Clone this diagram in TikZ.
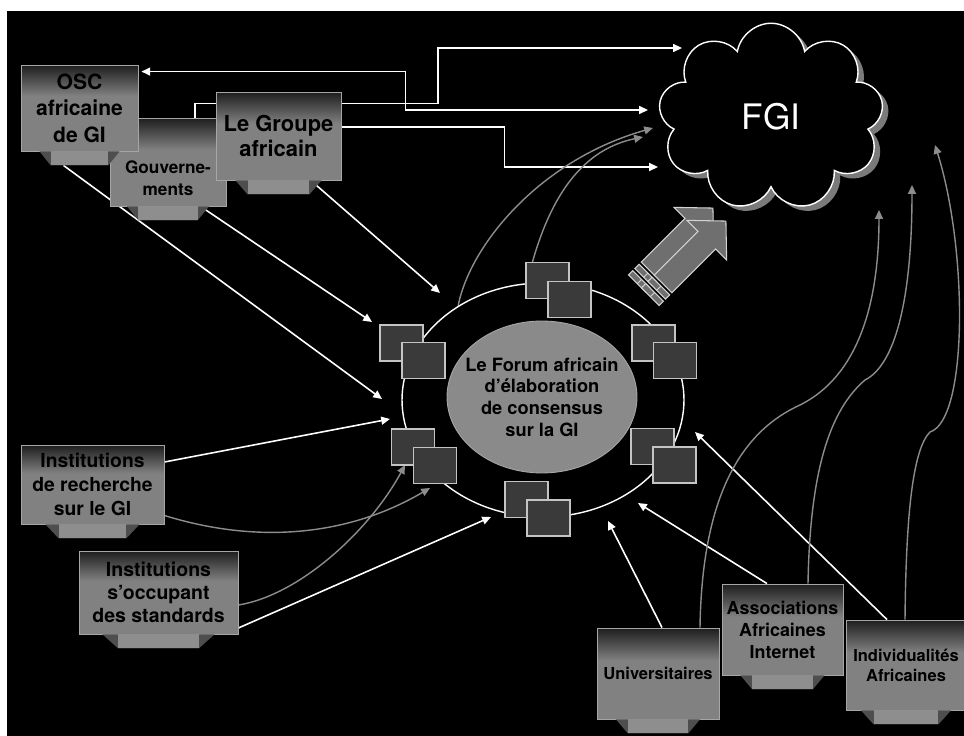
\documentclass[tikz,border=0pt]{standalone}
\usepackage{fontspec}
\setmainfont{TeX Gyre Heros}
\usetikzlibrary{arrows.meta,shapes.geometric,shapes.symbols,shadows}

\definecolor{boxgray}{HTML}{818181}
\definecolor{boxtop}{HTML}{1E1E1E}
\definecolor{boxedge}{HTML}{A6A6A6}
\definecolor{flapgray}{HTML}{4E4E4E}
\definecolor{footgray}{HTML}{8E8E8E}
\definecolor{seatfill}{HTML}{3A3A3A}
\definecolor{seatedge}{HTML}{C4C4C4}
\definecolor{forumgray}{HTML}{8A8A8A}
\definecolor{curvegray}{HTML}{8C8C8C}
\definecolor{arrowfill}{HTML}{6F6F6F}
\definecolor{arrowedge}{HTML}{D2D2D2}
\definecolor{cloudshadow}{HTML}{7A7A7A}

\pgfdeclareverticalshading{boxshade}{100bp}{color(0bp)=(boxgray); color(25bp)=(boxgray); color(57bp)=(boxgray); color(75bp)=(boxtop); color(100bp)=(boxtop)}

\pgfdeclarelayer{background}
\pgfdeclarelayer{links}
\pgfsetlayers{background,links,main}

% stand under a box: #1 box name, #2 half width of its top edge
\newcommand{\boxstand}[2]{%
  \fill[flapgray] (#1.south) ++({-#2},0) -- ++({2*#2},0) -- ++({-0.28*#2},14)
    -- ++({-1.44*#2},0) -- cycle;
  \fill[footgray] (#1.south) ++({-0.72*#2},0) rectangle ++({1.44*#2},14);
}

\begin{document}
\begin{tikzpicture}
    [%%%%%%%%%%%%%%%%%%%%%%%%%%%%%%
        x=0.02cm, y=-0.02cm,
        actor/.style={rectangle, draw=boxedge, line width=0.5pt, shade, shading=boxshade,
            align=center, text=black, inner sep=1pt},
        seat/.style={rectangle, draw=seatedge, line width=0.6pt, fill=seatfill,
            minimum width=0.86cm, minimum height=0.72cm, inner sep=0pt},
        wline/.style={draw=white, line width=0.9pt},
        gline/.style={draw=curvegray, line width=0.8pt},
        wtip/.style={-{Triangle[length=5pt,width=4.5pt]}},
        bigarrow/.style={fill=arrowfill, draw=arrowedge, line width=0.6pt},
    ]%%%%%%%%%%%%%%%%%%%%%%%%%%%%%%
\begin{pgfonlayer}{background}
\fill[white] (0,0) rectangle (964,736);
\fill[black] (7,11) rectangle (964,736);
\end{pgfonlayer}
\useasboundingbox (0,0) rectangle (964,736);

\node[cloud, cloud puffs=9, cloud puff arc=160, aspect=1.2, draw=white, line width=0.8pt,
    fill=black, minimum width=4.5cm, minimum height=3.75cm, text=white,
    font=\fontsize{20}{24}\selectfont,
    drop shadow={shadow xshift=3.4pt, shadow yshift=-2.8pt, fill=cloudshadow, opacity=1}]
    (fgi) at (771,117) {FGI};

% actors
\node[actor, minimum width=2.32cm, minimum height=1.76cm,
    label={[font=\bfseries\fontsize{9.8}{12.5}\selectfont, align=center, yshift=-9pt]center:Gouverne-\\ments}]
    (gouv) at (168,162) {};
\boxstand{gouv}{41}
\node[actor, minimum width=2.34cm, minimum height=1.72cm, font=\bfseries\fontsize{12}{15}\selectfont]
    (osc) at (79.5,108) {OSC\\africaine\\de GI};
\boxstand{osc}{40}
\node[actor, minimum width=2.50cm, minimum height=1.76cm, font=\bfseries\fontsize{12.5}{14.7}\selectfont]
    (groupe) at (278.5,136) {Le Groupe\\africain};
\boxstand{groupe}{43}
\node[actor, minimum width=2.86cm, minimum height=1.58cm, font=\bfseries\fontsize{11}{13.7}\selectfont]
    (irech) at (92.5,484.5) {Institutions\\de recherche\\sur le GI};
\boxstand{irech}{47}
\node[actor, minimum width=3.18cm, minimum height=1.66cm, font=\bfseries\fontsize{11.1}{13.2}\selectfont]
    (istand) at (158.5,592.5) {Institutions\\s’occupant\\des standards};
\boxstand{istand}{56}
\node[actor, minimum width=2.44cm, minimum height=1.82cm, font=\bfseries\fontsize{9.4}{12}\selectfont]
    (univ) at (658,673.5) {Universitaires};
\boxstand{univ}{42}
\node[actor, minimum width=2.42cm, minimum height=1.82cm, font=\bfseries\fontsize{10.2}{12.5}\selectfont]
    (assoc) at (782.5,629.5) {Associations\\Africaines\\Internet};
\boxstand{assoc}{42}
\node[actor, minimum width=2.40cm, minimum height=1.80cm, font=\bfseries\fontsize{9.4}{11.5}\selectfont]
    (indiv) at (906,665) {Individualités\\Africaines};
\boxstand{indiv}{45}

% forum
\node[ellipse, draw=white, line width=0.8pt, fill=black, minimum width=5.64cm, minimum height=4.68cm]
    (ring) at (543,400) {};
\node[ellipse, draw=boxedge, line width=0.5pt, fill=forumgray, minimum width=3.8cm, minimum height=3.04cm,
    inner xsep=-8pt, inner ysep=0pt, align=center, font=\bfseries\fontsize{10.4}{12.4}\selectfont]
    (forum) at (542,397) {Le Forum africain\\d’élaboration\\de consensus\\sur la GI};
\node[seat] (tb) at (547.5,280.5) {};
\node[seat] (tf) at (569.5,299.5) {};
\node[seat] (lub) at (401.5,343) {};
\node[seat] (luf) at (423.5,360.5) {};
\node[seat] (rub) at (653.5,343) {};
\node[seat] (ruf) at (675,360.5) {};
\node[seat] (llb) at (413,447) {};
\node[seat] (llf) at (435,465.5) {};
\node[seat] (rlb) at (652.5,446.5) {};
\node[seat] (rlf) at (674.5,465) {};
\node[seat] (bb) at (526.5,499.5) {};
\node[seat] (bf) at (548.5,518) {};

% big arrow towards FGI
\begin{scope}[shift={(650,271)}, rotate=45]
\draw[bigarrow] (0,-12.5) -- (62,-12.5) -- (62,-28) -- (89,0) -- (62,28) -- (62,12.5) -- (0,12.5) -- cycle;
\draw[bigarrow] (-9,-12.5) rectangle (-3,0) (-9,0) rectangle (-3,12.5);
\draw[bigarrow] (-18,-12.5) rectangle (-12,0) (-18,0) rectangle (-12,12.5);
\end{scope}
\begin{scope}[shift={(663,284)}, rotate=45]
\draw[bigarrow] (0,-12.5) -- (62,-12.5) -- (62,-28) -- (89,0) -- (62,28) -- (62,12.5) -- (0,12.5) -- cycle;
\draw[bigarrow] (-9,-12.5) rectangle (-3,0) (-9,0) rectangle (-3,12.5);
\draw[bigarrow] (-18,-12.5) rectangle (-12,0) (-18,0) rectangle (-12,12.5);
\end{scope}

% free ends
\coordinate (at-osc) at (382,399);
\coordinate (at-gouv) at (372,322);
\coordinate (at-groupe) at (440,293);
\coordinate (at-irech) at (390,419);
\coordinate (at-irech2) at (430,488);
\coordinate (at-istand) at (491,517);
\coordinate (at-istand2) at (405,465);
\coordinate (at-univ) at (608,521);
\coordinate (at-assoc) at (638,503);
\coordinate (at-indiv) at (695,432);
\coordinate (to-fgi-a) at (682,48);
\coordinate (to-fgi-b) at (648,110);
\coordinate (to-fgi-c) at (653,128);
\coordinate (to-fgi-d) at (643,137);
\coordinate (to-fgi-e) at (658,167);
\coordinate (to-fgi-f) at (879,210);
\coordinate (to-fgi-g) at (912,185);
\coordinate (to-fgi-h) at (935,145);

\begin{pgfonlayer}{links}
\draw[wline, {Triangle[length=5pt,width=4.5pt]}-{Triangle[length=5pt,width=4.5pt]}]
    ([shift={(3,7)}]osc.north east) -- ++(264,0) |- (to-fgi-b);
\draw[wline, wtip] ([shift={(27,0)}]gouv.north) -- ++(0,-14) -- ++(243,0) |- (to-fgi-a);
\draw[wline, wtip] ([shift={(0,-9)}]groupe.east) -- ++(163,0) |- (to-fgi-e);

\draw[wline, wtip] ([shift={(-16,14)}]osc.south) -- (at-osc);
\draw[wline, wtip] ([shift={(37,3)}]gouv.south) -- (at-gouv);
\draw[wline, wtip] ([shift={(38,5)}]groupe.south) -- (at-groupe);
\draw[wline, wtip] ([shift={(0,-22.5)}]irech.east) -- (at-irech);
\draw[wline, wtip] ([shift={(0,35.5)}]istand.east) -- (at-istand);
\draw[wline, wtip] ([shift={(4,0)}]univ.north) -- (at-univ);
\draw[wline, wtip] ([shift={(-15.5,0)}]assoc.north) -- (at-assoc);
\draw[wline, wtip] ([shift={(-19,0)}]indiv.north) -- (at-indiv);

\draw[gline, wtip] ([shift={(0,31)}]irech.east) .. controls (260,545) and (350,535) .. (at-irech2);
\draw[gline, wtip] ([shift={(0,12.5)}]istand.east) .. controls (300,595) and (370,530) .. (at-istand2);
\draw[gline, wtip] (ring.132) .. controls (470,245) and (540,160) .. (to-fgi-c);
\draw[gline, wtip] ([shift={(7,0)}]tb.north west) .. controls (550,200) and (580,150) .. (to-fgi-d);
\draw[gline, wtip] ([shift={(42,0)}]univ.north) .. controls (702,490) and (745,430) .. (800,405)
    .. controls (860,375) and (879,300) .. (to-fgi-f);
\draw[gline, wtip] ([shift={(25.5,0)}]assoc.north) .. controls (810,470) and (830,410) .. (865,380)
    .. controls (895,365) and (912,300) .. (to-fgi-g);
\draw[gline, wtip] ([shift={(-1,0)}]indiv.north) .. controls (906,520) and (912,450) .. (930,432)
    .. controls (968,420) and (968,250) .. (to-fgi-h);
\end{pgfonlayer}
\end{tikzpicture}
\end{document}
